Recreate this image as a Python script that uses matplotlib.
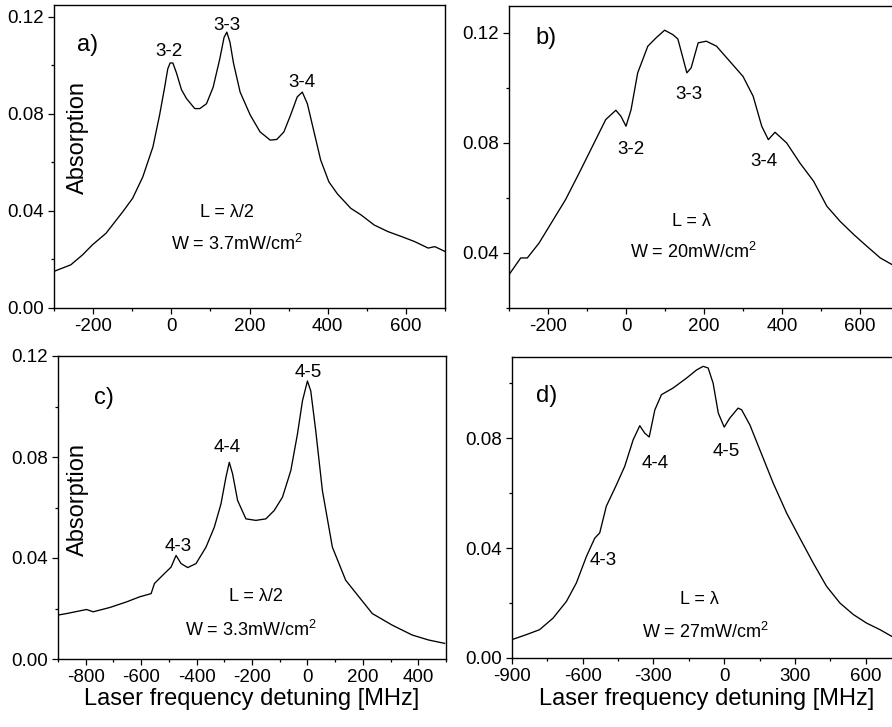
import matplotlib
matplotlib.use("Agg")
import matplotlib.pyplot as plt
from matplotlib.ticker import MultipleLocator, FormatStrFormatter

plt.rcParams['font.family'] = ['Liberation Sans', 'DejaVu Sans']
plt.rcParams['axes.unicode_minus'] = False
plt.rcParams['mathtext.default'] = 'regular'

# ---------------- data ----------------
a_x = [-300, -257, -227, -202, -167, -124, -99, -73, -47, -30, -17, -9, -3, 4, 13, 26, 39, 60, 73,
       90, 107, 124, 135, 142, 150, 159, 176, 202, 227, 253, 270, 288, 305, 322, 335, 348, 365, 382,
       403, 425, 459, 485, 519, 554, 588, 622, 657, 674, 700]
a_y = [0.0151, 0.0178, 0.0219, 0.026, 0.0308, 0.0397, 0.0452, 0.054, 0.0664, 0.0795, 0.091, 0.0986,
       0.101, 0.101, 0.097, 0.090, 0.0863, 0.0822, 0.0822, 0.0842, 0.091, 0.1027, 0.1116, 0.1137,
       0.1096, 0.101, 0.089, 0.0795, 0.0726, 0.0692, 0.0695, 0.0726, 0.0795, 0.087, 0.089, 0.0842,
       0.0726, 0.061, 0.052, 0.047, 0.0411, 0.0384, 0.0342, 0.0315, 0.0295, 0.0274, 0.0247, 0.0253,
       0.0233]

b_x = [-300, -270, -253, -223, -189, -155, -120, -86, -52, -26, -13, 0, 13, 30, 56, 77, 99, 120,
       133, 146, 156, 167, 185, 206, 232, 266, 300, 326, 348, 365, 382, 412, 446, 481, 515, 549,
       584, 618, 652, 682]
b_y = [0.0321, 0.0382, 0.0382, 0.0436, 0.0515, 0.0594, 0.0691, 0.0788, 0.0885, 0.0919, 0.0897,
       0.0861, 0.0921, 0.1055, 0.1152, 0.1182, 0.121, 0.1194, 0.1178, 0.1109, 0.1055, 0.1073,
       0.1164, 0.117, 0.1152, 0.1097, 0.1042, 0.097, 0.0861, 0.0812, 0.0839, 0.080, 0.0727, 0.0661,
       0.057, 0.0515, 0.0467, 0.0424, 0.0382, 0.0358]

c_x = [-900, -869, -797, -773, -713, -653, -606, -564, -552, -522, -492, -474, -456, -432, -402,
       -366, -336, -312, -294, -282, -270, -252, -222, -186, -150, -120, -90, -60, -36, -18, 0, 12,
       30, 54, 90, 138, 186, 234, 306, 378, 438, 495]
c_y = [0.0174, 0.018, 0.0196, 0.0187, 0.0204, 0.0226, 0.0246, 0.0259, 0.0299, 0.0332, 0.0364,
       0.041, 0.0378, 0.0362, 0.0378, 0.0443, 0.0522, 0.0614, 0.072, 0.0779, 0.0733, 0.0628, 0.0555,
       0.0549, 0.0555, 0.0588, 0.0641, 0.0746, 0.0891, 0.1022, 0.1101, 0.1062, 0.0904, 0.0667,
       0.0443, 0.0312, 0.0246, 0.018, 0.0134, 0.0095, 0.0075, 0.0062]

d_x = [-900, -839, -783, -726, -669, -627, -584, -549, -528, -500, -457, -422, -386, -358, -337,
       -318, -294, -266, -217, -160, -117, -89, -68, -47, -25, 0, 24, 59, 74, 109, 151, 208, 265,
       321, 378, 434, 491, 548, 604, 661, 710]
d_y = [0.0067, 0.0085, 0.0103, 0.0145, 0.0206, 0.0273, 0.037, 0.0436, 0.0455, 0.0552, 0.063,
       0.0697, 0.0794, 0.0845, 0.0818, 0.0804, 0.0903, 0.0958, 0.0982, 0.1018, 0.1048, 0.1061,
       0.1055, 0.1, 0.0891, 0.084, 0.0873, 0.0909, 0.0903, 0.0848, 0.0758, 0.0636, 0.0527, 0.0436,
       0.0345, 0.0261, 0.02, 0.0158, 0.0127, 0.0103, 0.0079]

panel_labels = ['a)', 'b)', 'c)', 'd)']
a_lines = ['3-2', '3-3', '3-4']
a_line_pos = [(-5, 0.1056), (142, 0.1165), (334, 0.0928)]
b_lines = ['3-2', '3-3', '3-4']
b_line_pos = [(13, 0.0778), (161, 0.0978), (354, 0.0731)]
c_lines = ['4-3', '4-4', '4-5']
c_line_pos = [(-468, 0.0444), (-288, 0.0836), (4, 0.1133)]
d_lines = ['4-3', '4-4', '4-5']
d_line_pos = [(-514, 0.0353), (-293, 0.0709), (8, 0.0753)]
cond_L = ['L = \u03bb/2', 'L = \u03bb', 'L = \u03bb/2', 'L = \u03bb']
cond_W = ['W = 3.7mW/cm$^{2}$', 'W = 20mW/cm$^{2}$', 'W = 3.3mW/cm$^{2}$', 'W = 27mW/cm$^{2}$']
cond_L_pos = [(142, 0.0392), (167, 0.0516), (-184, 0.0246), (-106, 0.0211)]
cond_W_pos = [(167, 0.0265), (172, 0.0402), (-202, 0.0115), (-77, 0.0095)]

xlabel = 'Laser frequency detuning [MHz]'
ylabel = 'Absorption'

# ---------------- figure ----------------
fig = plt.figure(figsize=(8.92, 7.27), dpi=100)
W, H = 892.0, 727.0

def axes_px(left, top, right, bottom):
    return fig.add_axes([left / W, 1 - bottom / H, (right - left) / W, (bottom - top) / H])

ax_a = axes_px(54, 5, 445, 308)
ax_b = axes_px(509, 6, 899, 308)
ax_c = axes_px(58, 356, 446, 659)
ax_d = axes_px(512, 357, 901, 658)

specs = [
    (ax_a, a_x, a_y, (-300, 700), (0, 0.1249), 200, 100, a_lines, a_line_pos),
    (ax_b, b_x, b_y, (-300, 700), (0.02, 0.1298), 200, 100, b_lines, b_line_pos),
    (ax_c, c_x, c_y, (-900, 500), (0, 0.12), 200, 100, c_lines, c_line_pos),
    (ax_d, d_x, d_y, (-900, 750), (0, 0.1095), 300, 150, d_lines, d_line_pos),
]
label_frac = [(0.087, 0.868), (0.095, 0.894), (0.119, 0.861), (0.09, 0.870)]

for i, (ax, xs, ys, xl, yl, xmaj, xmin, lines, lpos) in enumerate(specs):
    ax.plot(xs, ys, color='black', lw=0.95)
    ax.set_xlim(*xl)
    ax.set_ylim(*yl)
    ax.xaxis.set_major_locator(MultipleLocator(xmaj))
    ax.xaxis.set_minor_locator(MultipleLocator(xmin))
    ax.yaxis.set_major_locator(MultipleLocator(0.04))
    ax.yaxis.set_minor_locator(MultipleLocator(0.02))
    ax.yaxis.set_major_formatter(FormatStrFormatter('%.2f'))
    ax.tick_params(which='major', direction='out', length=4.5, width=0.9, labelsize=13.5, pad=2.5)
    ax.tick_params(which='minor', direction='out', length=2.5, width=0.9)
    ax.tick_params(top=False, right=False, which='both')
    for s in ax.spines.values():
        s.set_linewidth(1.0)
    ax.text(label_frac[i][0], label_frac[i][1], panel_labels[i], transform=ax.transAxes,
            ha='center', va='center', fontsize=17)
    for t, (px, py) in zip(lines, lpos):
        ax.text(px, py, t, ha='center', va='center', fontsize=13.5)
    ax.text(cond_L_pos[i][0], cond_L_pos[i][1], cond_L[i], ha='center', va='center', fontsize=13)
    ax.text(cond_W_pos[i][0], cond_W_pos[i][1], cond_W[i], ha='center', va='center', fontsize=13)

ax_a.text(0.061, 0.564, ylabel, transform=ax_a.transAxes, rotation=90, ha='center', va='center',
          fontsize=17)
ax_c.text(0.052, 0.525, ylabel, transform=ax_c.transAxes, rotation=90, ha='center', va='center',
          fontsize=17)
ax_c.set_xlabel(xlabel, fontsize=17, labelpad=2)
ax_d.set_xlabel(xlabel, fontsize=17, labelpad=2)

fig.savefig('out.png', dpi=100)
